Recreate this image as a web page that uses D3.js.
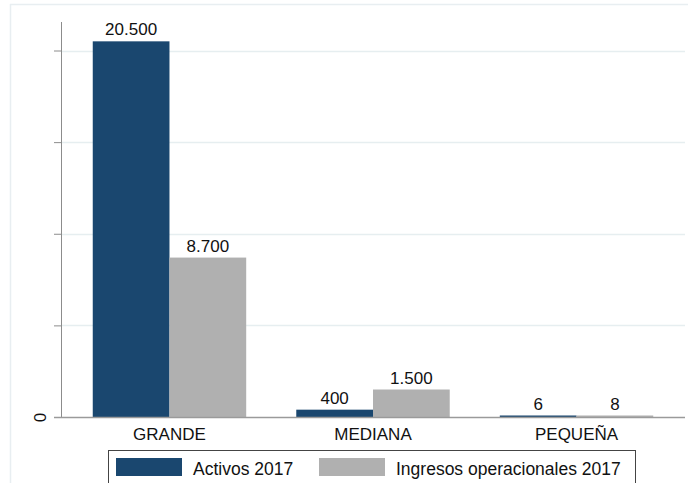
<!DOCTYPE html>
<html>
<head>
<meta charset="utf-8">
<script src="https://cdn.jsdelivr.net/npm/d3@7"></script>
<style>
  html, body { margin: 0; padding: 0; background: #fff; }
  svg { display: block; }
  text { font-family: "Liberation Sans", Arial, sans-serif; fill: #111; }
</style>
</head>
<body>
<div id="chart"></div>
<script>
// data
var categories = ["GRANDE", "MEDIANA", "PEQUEÑA"];
var seriesNames = ["Activos 2017", "Ingresos operacionales 2017"];
var activos = [20500, 400, 6];
var ingresos = [8700, 1500, 8];
var yTicks = [0, 5000, 10000, 15000, 20000];
var yTickLabels = ["0", "", "", "", ""];

var colors = ["#1a476f", "#b0b0b0"];

var width = 688, height = 483;
var plot = { left: 61, right: 685, top: 50.5, bottom: 417 };

var svg = d3.select("#chart").append("svg")
  .attr("width", width)
  .attr("height", height);

// faint outer frame
svg.append("line")
  .attr("x1", 10).attr("x2", width).attr("y1", 4.5).attr("y2", 4.5)
  .attr("stroke", "#e8eef1").attr("stroke-width", 1.5);
svg.append("line")
  .attr("x1", 10.5).attr("x2", 10.5).attr("y1", 4).attr("y2", height)
  .attr("stroke", "#e8eef1").attr("stroke-width", 1.5);

var y = d3.scaleLinear().domain([0, 20000]).range([plot.bottom, plot.top]);
var x = d3.scaleBand().domain(categories)
  .range([plot.left, plot.right])
  .paddingInner(0.246).paddingOuter(0.156);
var xs = d3.scaleBand().domain(seriesNames).range([0, x.bandwidth()]);

var fmt = d3.formatLocale({ decimal: ",", thousands: ".", grouping: [3], currency: ["", ""] }).format(",d");

// gridlines
svg.append("g").selectAll("line")
  .data(yTicks.slice(1))
  .join("line")
  .attr("x1", plot.left).attr("x2", plot.right)
  .attr("y1", function(d) { return Math.round(y(d)) + 0.5; })
  .attr("y2", function(d) { return Math.round(y(d)) + 0.5; })
  .attr("stroke", "#e6eef0").attr("stroke-width", 1.5);

// y axis
var yAxis = d3.axisLeft(y).tickValues(yTicks).tickSize(7).tickPadding(8)
  .tickFormat(function(d, i) { return yTickLabels[i]; });
var gy = svg.append("g").attr("transform", "translate(" + plot.left + ",0)").call(yAxis);
gy.select(".domain").attr("stroke", "#8c8c8c").attr("d", "M0.5," + plot.bottom + "V" + 22);
gy.selectAll(".tick line").attr("stroke", "#8c8c8c");
gy.selectAll(".tick text")
  .attr("font-size", 17)
  .attr("text-anchor", "middle")
  .attr("x", null).attr("dy", null)
  .attr("transform", "translate(-15,0) rotate(-90)");

// bars
var rows = categories.map(function(c, i) {
  return { cat: c, vals: [activos[i], ingresos[i]] };
});

var groups = svg.append("g").selectAll("g")
  .data(rows)
  .join("g")
  .attr("transform", function(d) { return "translate(" + x(d.cat) + ",0)"; });

groups.selectAll("rect")
  .data(function(d) { return d.vals.map(function(v, j) { return { v: v, s: seriesNames[j], j: j }; }); })
  .join("rect")
  .attr("x", function(d) { return xs(d.s); })
  .attr("width", xs.bandwidth())
  .attr("y", function(d) { return Math.min(y(d.v), plot.bottom - 1.5); })
  .attr("height", function(d) { return Math.max(plot.bottom - y(d.v), 1.5); })
  .attr("fill", function(d) { return colors[d.j]; });

groups.selectAll("text")
  .data(function(d) { return d.vals.map(function(v, j) { return { v: v, s: seriesNames[j] }; }); })
  .join("text")
  .attr("x", function(d) { return xs(d.s) + xs.bandwidth() / 2; })
  .attr("y", function(d) { return Math.min(y(d.v), plot.bottom - 1.5) - 6; })
  .attr("text-anchor", "middle")
  .attr("font-size", 17)
  .text(function(d) { return fmt(d.v); });

// baseline / x axis
var xAxis = d3.axisBottom(x).tickSize(0).tickPadding(11);
var gx = svg.append("g").attr("transform", "translate(0," + plot.bottom + ")").call(xAxis);
gx.select(".domain").attr("stroke", "#9a9a9a").attr("stroke-width", 1.3)
  .attr("d", "M54,0.5H" + plot.right);
gx.selectAll(".tick text").attr("font-size", 17).attr("dy", "0.71em");

// legend
var legend = svg.append("g");
legend.append("rect")
  .attr("x", 108.5).attr("y", 450.5)
  .attr("width", 527).attr("height", 45)
  .attr("fill", "#fff").attr("stroke", "#444").attr("stroke-width", 1);

var legendX = [116, 319];
var li = legend.selectAll("g.item")
  .data(seriesNames)
  .join("g")
  .attr("class", "item")
  .attr("transform", function(d, i) { return "translate(" + legendX[i] + ",458)"; });
li.append("rect")
  .attr("width", 66).attr("height", 18)
  .attr("fill", function(d, i) { return colors[i]; });
li.append("text")
  .attr("x", 77).attr("y", 17)
  .attr("font-size", 17.5)
  .text(function(d) { return d; });
</script>
</body>
</html>
